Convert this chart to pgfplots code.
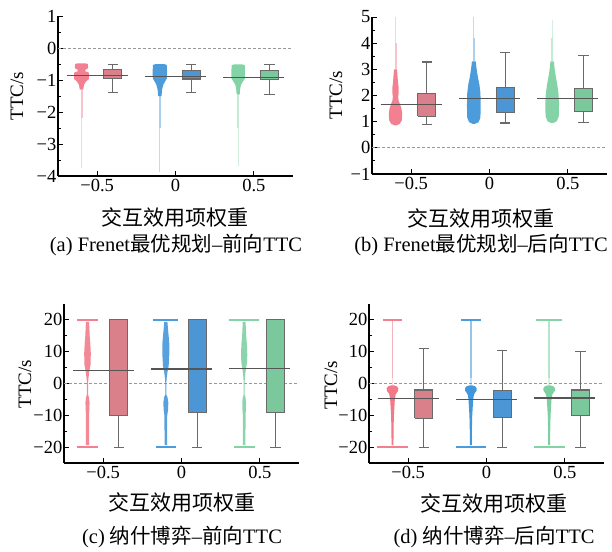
\documentclass[border=0pt]{standalone}
\usepackage{pgfplots}
\pgfplotsset{compat=1.18}
\usepackage{pgfplotstable}
\usepackage{fontspec}
\setmainfont{Liberation Serif}
\newfontfamily\cjk{Noto Sans CJK SC}

\definecolor{rpt}{HTML}{F06A7C}
\definecolor{bpt}{HTML}{2D8BD6}
\definecolor{gpt}{HTML}{6FCB97}
\definecolor{rbx}{HTML}{DA808A}
\definecolor{bbx}{HTML}{4D96D5}
\definecolor{gbx}{HTML}{7BC89C}
\definecolor{edge}{HTML}{6A6A6A}
\definecolor{medc}{HTML}{555555}

% ---------- strip outlines: y, half width w, side s ----------
\pgfplotstableread{
y w s
-0.48 0.025 1
-0.50 0.040 1
-0.63 0.043 1
-0.68 0.024 1
-0.73 0.024 1
-0.77 0.047 1
-0.97 0.047 1
-1.05 0.028 1
-1.15 0.016 1
-1.30 0.011 1
-1.30 0.011 -1
-1.15 0.016 -1
-1.05 0.028 -1
-0.97 0.047 -1
-0.77 0.047 -1
-0.73 0.024 -1
-0.68 0.024 -1
-0.63 0.043 -1
-0.50 0.040 -1
-0.48 0.025 -1
}\pAr
\pgfplotstableread{
y w s
-0.50 0.025 1
-0.53 0.044 1
-0.75 0.046 1
-0.95 0.045 1
-1.05 0.033 1
-1.15 0.022 1
-1.30 0.014 1
-1.50 0.011 1
-1.50 0.011 -1
-1.30 0.014 -1
-1.15 0.022 -1
-1.05 0.033 -1
-0.95 0.045 -1
-0.75 0.046 -1
-0.53 0.044 -1
-0.50 0.025 -1
}\pAb
\pgfplotstableread{
y w s
-0.51 0.025 1
-0.54 0.042 1
-0.95 0.044 1
-1.05 0.030 1
-1.15 0.018 1
-1.30 0.012 1
-1.45 0.010 1
-1.45 0.010 -1
-1.30 0.012 -1
-1.15 0.018 -1
-1.05 0.030 -1
-0.95 0.044 -1
-0.54 0.042 -1
-0.51 0.025 -1
}\pAg
% panel b
\pgfplotstableread{
y w s
0.86 0.008 1
0.92 0.028 1
1.05 0.040 1
1.30 0.043 1
1.50 0.038 1
1.65 0.030 1
1.80 0.020 1
1.95 0.017 1
2.10 0.020 1
2.30 0.020 1
2.50 0.016 1
2.80 0.012 1
3.00 0.010 1
3.00 0.010 -1
2.80 0.012 -1
2.50 0.016 -1
2.30 0.020 -1
2.10 0.020 -1
1.95 0.017 -1
1.80 0.020 -1
1.65 0.030 -1
1.50 0.038 -1
1.30 0.043 -1
1.05 0.040 -1
0.92 0.028 -1
0.86 0.008 -1
}\pBr
\pgfplotstableread{
y w s
0.92 0.008 1
0.98 0.030 1
1.15 0.042 1
1.60 0.044 1
2.10 0.042 1
2.40 0.036 1
2.70 0.026 1
3.00 0.018 1
3.30 0.012 1
3.30 0.012 -1
3.00 0.018 -1
2.70 0.026 -1
2.40 0.036 -1
2.10 0.042 -1
1.60 0.044 -1
1.15 0.042 -1
0.98 0.030 -1
0.92 0.008 -1
}\pBb
\pgfplotstableread{
y w s
0.95 0.008 1
1.02 0.030 1
1.20 0.042 1
1.70 0.044 1
2.10 0.040 1
2.40 0.033 1
2.70 0.024 1
3.00 0.016 1
3.30 0.011 1
3.30 0.011 -1
3.00 0.016 -1
2.70 0.024 -1
2.40 0.033 -1
2.10 0.040 -1
1.70 0.044 -1
1.20 0.042 -1
1.02 0.030 -1
0.95 0.008 -1
}\pBg
% panel c
\pgfplotstableread{
y w s
19.4 0.010 1
15.0 0.014 1
12.5 0.018 1
9.5 0.021 1
6.0 0.020 1
4.0 0.012 1
2.0 0.007 1
0.5 0.004 1
-3.5 0.004 1
-4.5 0.010 1
-6.0 0.013 1
-8.3 0.012 1
-9.5 0.010 1
-19.4 0.010 1
-19.4 0.010 -1
-9.5 0.010 -1
-8.3 0.012 -1
-6.0 0.013 -1
-4.5 0.010 -1
-3.5 0.004 -1
0.5 0.004 -1
2.0 0.007 -1
4.0 0.012 -1
6.0 0.020 -1
9.5 0.021 -1
12.5 0.018 -1
15.0 0.014 -1
19.4 0.010 -1
}\pCr
\pgfplotstableread{
y w s
19.4 0.010 1
16.0 0.016 1
12.7 0.022 1
9.0 0.022 1
5.5 0.018 1
3.5 0.010 1
1.5 0.005 1
0.0 0.003 1
-3.5 0.003 1
-4.2 0.010 1
-6.0 0.016 1
-8.3 0.014 1
-10.0 0.009 1
-19.4 0.008 1
-19.4 0.008 -1
-10.0 0.009 -1
-8.3 0.014 -1
-6.0 0.016 -1
-4.2 0.010 -1
-3.5 0.003 -1
0.0 0.003 -1
1.5 0.005 -1
3.5 0.010 -1
5.5 0.018 -1
9.0 0.022 -1
12.7 0.022 -1
16.0 0.016 -1
19.4 0.010 -1
}\pCb
\pgfplotstableread{
y w s
19.4 0.009 1
15.0 0.013 1
12.0 0.018 1
9.0 0.020 1
6.5 0.018 1
4.5 0.011 1
2.5 0.006 1
0.5 0.003 1
-3.5 0.003 1
-4.5 0.009 1
-6.0 0.012 1
-8.3 0.011 1
-9.5 0.009 1
-19.4 0.008 1
-19.4 0.008 -1
-9.5 0.009 -1
-8.3 0.011 -1
-6.0 0.012 -1
-4.5 0.009 -1
-3.5 0.003 -1
0.5 0.003 -1
2.5 0.006 -1
4.5 0.011 -1
6.5 0.018 -1
9.0 0.020 -1
12.0 0.018 -1
15.0 0.013 -1
19.4 0.009 -1
}\pCg
% panel d (same outline used for all three)
\pgfplotstableread{
y w s
-0.6 0.010 1
-0.9 0.028 1
-1.5 0.037 1
-2.3 0.036 1
-2.9 0.027 1
-3.5 0.020 1
-5.0 0.015 1
-7.5 0.012 1
-10.0 0.009 1
-14.0 0.007 1
-19.4 0.006 1
-19.4 0.006 -1
-14.0 0.007 -1
-10.0 0.009 -1
-7.5 0.012 -1
-5.0 0.015 -1
-3.5 0.020 -1
-2.9 0.027 -1
-2.3 0.036 -1
-1.5 0.037 -1
-0.9 0.028 -1
-0.6 0.010 -1
}\pD

% blob: center, colour, opacity, table
\newcommand{\blob}[4]{%
  \addplot[fill=#2, fill opacity=#3, draw=none, forget plot] table[x expr=#1+\thisrow{s}*\thisrow{w}, y=y]{#4};
}
% vertical faint segment: x, y1, y2, colour, width, opacity
\newcommand{\tail}[6]{%
  \addplot[#4, line width=#5, opacity=#6, forget plot] coordinates {(#1,#2) (#1,#3)};
}
% horizontal band: xl, xr, y, colour
\newcommand{\band}[4]{%
  \addplot[#4, line width=2.4pt, opacity=0.85, forget plot] coordinates {(#1,#3) (#2,#3)};
}
% box positions
\newcommand{\posR}{\def\P{-0.4}\def\L{-0.4575}\def\R{-0.3425}\def\CL{-0.4325}\def\CR{-0.3675}}
\newcommand{\posB}{\def\P{0.1}\def\L{0.0425}\def\R{0.1575}\def\CL{0.0675}\def\CR{0.1325}}
\newcommand{\posG}{\def\P{0.6}\def\L{0.5425}\def\R{0.6575}\def\CL{0.5675}\def\CR{0.6325}}
% box: colour, lower whisker, q1, q3, upper whisker
\newcommand{\bx}[5]{%
  \addplot[edge, line width=1.1pt, forget plot] coordinates {(\P,#2) (\P,#3)};
  \addplot[edge, line width=1.1pt, forget plot] coordinates {(\P,#4) (\P,#5)};
  \addplot[edge, line width=1.1pt, forget plot] coordinates {(\CL,#2) (\CR,#2)};
  \addplot[edge, line width=1.1pt, forget plot] coordinates {(\CL,#5) (\CR,#5)};
  \addplot[fill=#1, draw=edge, line width=1.1pt, forget plot] coordinates {(\L,#3) (\R,#3) (\R,#4) (\L,#4) (\L,#3)};
}
% median line: x left, x right, value
\newcommand{\med}[3]{%
  \addplot[medc, line width=1.1pt, forget plot] coordinates {(#1,#3) (#2,#3)};
}
\newcommand{\zero}{%
  \addplot[gray!80, line width=0.8pt, dash pattern=on 3pt off 2pt, forget plot] coordinates {(-0.75,0) (0.75,0)};
}

\pgfplotsset{panel/.style={
  scale only axis, width=235pt, xmin=-0.75, xmax=0.75,
  anchor=south west,
  axis x line*=bottom, axis y line*=left,
  axis line style={line width=1.1pt, black},
  tick align=inside, tick style={black, line width=0.9pt},
  major tick length=5pt, minor tick length=3pt,
  minor y tick num=1,
  xtick={-0.5,0,0.5}, xticklabels={−0.5,0,0.5},
  ticklabel style={font=\fontsize{18.5}{18.5}\selectfont},
  yticklabel style={inner sep=1.5pt},
  xticklabel style={inner sep=3pt},
}}

\begin{document}
\begin{tikzpicture}

% (a)
\begin{axis}[panel, at={(58pt,-176pt)}, height=160pt, ymin=-4, ymax=1,
  ytick={-4,-3,-2,-1,0,1}, yticklabels={−4,−3,−2,−1,0,1}]
\zero
\tail{-0.6}{-1.3}{-2.2}{rpt}{2pt}{0.4}
\tail{-0.6}{-2.2}{-3.76}{rpt}{1.3pt}{0.3}
\tail{-0.1}{-1.5}{-2.5}{bpt}{2pt}{0.4}
\tail{-0.1}{-2.5}{-3.88}{bpt}{1.3pt}{0.3}
\tail{0.4}{-1.45}{-2.5}{gpt}{2pt}{0.4}
\tail{0.4}{-2.5}{-3.7}{gpt}{1.3pt}{0.3}
\blob{-0.6}{rpt}{0.85}{\pAr}
\blob{-0.1}{bpt}{0.85}{\pAb}
\blob{0.4}{gpt}{0.85}{\pAg}
\posR\bx{rbx}{-1.38}{-0.96}{-0.66}{-0.51}
\posB\bx{bbx}{-1.40}{-0.97}{-0.69}{-0.51}
\posG\bx{gbx}{-1.44}{-0.98}{-0.69}{-0.51}
\med{-0.695}{-0.305}{-0.85}
\med{-0.195}{0.195}{-0.89}
\med{0.305}{0.695}{-0.91}
\end{axis}

% (b)
\begin{axis}[panel, at={(372pt,-174pt)}, height=157pt, ymin=-1, ymax=5,
  ytick={-1,0,1,2,3,4,5}, yticklabels={−1,0,1,2,3,4,5}]
\zero
\tail{-0.6}{3.0}{4.0}{rpt}{2pt}{0.4}
\tail{-0.6}{4.0}{5.0}{rpt}{1.2pt}{0.3}
\tail{-0.1}{3.3}{4.2}{bpt}{2.4pt}{0.4}
\tail{-0.1}{4.2}{5.0}{bpt}{1.3pt}{0.3}
\tail{0.4}{3.3}{4.2}{gpt}{2.4pt}{0.4}
\tail{0.4}{4.2}{4.89}{gpt}{1.3pt}{0.3}
\blob{-0.6}{rpt}{0.85}{\pBr}
\blob{-0.1}{bpt}{0.85}{\pBb}
\blob{0.4}{gpt}{0.85}{\pBg}
\posR\bx{rbx}{0.88}{1.20}{2.06}{3.28}
\posB\bx{bbx}{0.95}{1.36}{2.31}{3.63}
\posG\bx{gbx}{0.98}{1.40}{2.27}{3.52}
\med{-0.695}{-0.305}{1.66}
\med{-0.195}{0.195}{1.90}
\med{0.305}{0.695}{1.88}
\end{axis}

% (c)
\begin{axis}[panel, at={(64pt,-463pt)}, height=159pt, ymin=-25, ymax=25,
  ytick={-20,-10,0,10,20}, yticklabels={−20,−10,0,10,20}]
\zero
\blob{-0.6}{rpt}{0.8}{\pCr}
\blob{-0.1}{bpt}{0.8}{\pCb}
\blob{0.4}{gpt}{0.8}{\pCg}
\band{-0.666}{-0.534}{20}{rpt}
\band{-0.670}{-0.530}{-20}{rpt}
\band{-0.185}{-0.025}{20}{bpt}
\band{-0.162}{-0.034}{-20}{bpt}
\band{0.305}{0.495}{20}{gpt}
\band{0.333}{0.467}{-20}{gpt}
\posR\bx{rbx}{-20}{-10.2}{20}{20}
\posB\bx{bbx}{-20}{-9.1}{20}{20}
\posG\bx{gbx}{-20}{-9.1}{20}{20}
\med{-0.695}{-0.305}{4.15}
\med{-0.195}{0.195}{4.55}
\med{0.305}{0.695}{4.85}
\end{axis}

% (d)
\begin{axis}[panel, at={(369pt,-463pt)}, height=159pt, ymin=-25, ymax=25,
  ytick={-20,-10,0,10,20}, yticklabels={−20,−10,0,10,20}]
\zero
\tail{-0.6}{19.6}{1.6}{rpt}{1.4pt}{0.5}
\tail{-0.1}{19.6}{1.6}{bpt}{1.4pt}{0.5}
\tail{0.4}{19.6}{1.6}{gpt}{1.4pt}{0.5}
\tail{-0.6}{1.6}{-0.6}{rpt}{1.4pt}{0.25}
\tail{-0.1}{1.6}{-0.6}{bpt}{1.4pt}{0.25}
\tail{0.4}{1.6}{-0.6}{gpt}{1.4pt}{0.25}
\blob{-0.6}{rpt}{0.9}{\pD}
\blob{-0.1}{bpt}{0.9}{\pD}
\blob{0.4}{gpt}{0.9}{\pD}
\band{-0.662}{-0.538}{20}{rpt}
\band{-0.696}{-0.504}{-20}{rpt}
\band{-0.160}{-0.038}{20}{bpt}
\band{-0.194}{-0.006}{-20}{bpt}
\band{0.318}{0.482}{20}{gpt}
\band{0.302}{0.498}{-20}{gpt}
\posR\bx{rbx}{-20}{-10.95}{-2.05}{10.95}
\posB\bx{bbx}{-20}{-10.55}{-2.1}{10.45}
\posG\bx{gbx}{-20}{-10.2}{-2.05}{10.15}
\med{-0.695}{-0.305}{-4.8}
\med{-0.195}{0.195}{-5.0}
\med{0.305}{0.695}{-4.55}
\end{axis}

% labels
\begin{scope}[every node/.style={inner sep=0pt}]
\node[rotate=90] at (17pt,-96pt) {\fontsize{19}{19}\selectfont TTC/s};
\node[rotate=90] at (336pt,-95pt) {\fontsize{19}{19}\selectfont TTC/s};
\node[rotate=90] at (25pt,-384pt) {\fontsize{19}{19}\selectfont TTC/s};
\node[rotate=90] at (331pt,-385pt) {\fontsize{19}{19}\selectfont TTC/s};

\node at (175pt,-217pt) {\fontsize{21}{21}\selectfont\cjk 交互效用项权重};
\node at (481pt,-218pt) {\fontsize{21}{21}\selectfont\cjk 交互效用项权重};
\node at (182pt,-502pt) {\fontsize{21}{21}\selectfont\cjk 交互效用项权重};
\node at (494pt,-503pt) {\fontsize{21}{21}\selectfont\cjk 交互效用项权重};

\node at (176pt,-245pt) {\fontsize{20.5}{20.5}\selectfont (a) Frenet{\cjk 最优规划}–{\cjk 前向}TTC};
\node at (481pt,-245pt) {\fontsize{20.5}{20.5}\selectfont (b) Frenet{\cjk 最优规划}–{\cjk 后向}TTC};
\node at (182pt,-537pt) {\fontsize{20.5}{20.5}\selectfont (c) {\cjk 纳什博弈}–{\cjk 前向}TTC};
\node at (494pt,-537pt) {\fontsize{20.5}{20.5}\selectfont (d) {\cjk 纳什博弈}–{\cjk 后向}TTC};
\end{scope}
\path (0pt,0pt) rectangle (612pt,-551pt);
\end{tikzpicture}
\end{document}
